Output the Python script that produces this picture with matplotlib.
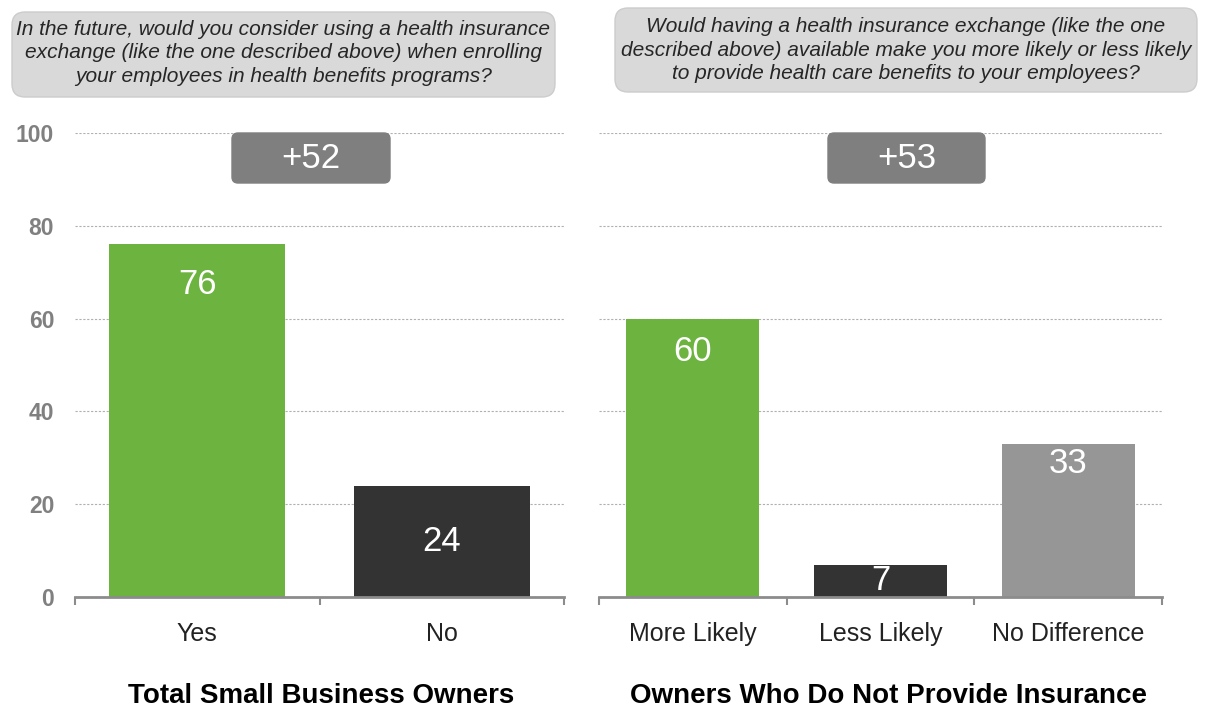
import matplotlib
matplotlib.use('Agg')
import matplotlib.pyplot as plt
from matplotlib.patches import FancyBboxPatch

plt.rcParams['font.family'] = ['Liberation Sans', 'DejaVu Sans']

# ---- data ----
left_categories = ['Yes', 'No']
left_values = [76, 24]
left_colors = ['#6db33f', '#333333']
right_categories = ['More Likely', 'Less Likely', 'No Difference']
right_values = [60, 7, 33]
right_colors = ['#6db33f', '#333333', '#969696']
yticks = [0, 20, 40, 60, 80, 100]
left_delta = '+52'
right_delta = '+53'
left_question = ("In the future, would you consider using a health insurance\n"
                 "exchange (like the one described above) when enrolling\n"
                 "your employees in health benefits programs?")
right_question = ("Would having a health insurance exchange (like the one\n"
                  "described above) available make you more likely or less likely\n"
                  "to provide health care benefits to your employees?")
left_title = 'Total Small Business Owners'
right_title = 'Owners Who Do Not Provide Insurance'

W, H = 1205, 711
fig = plt.figure(figsize=(W / 100, H / 100), dpi=100)


def px_axes(x0, x1, ytop, ybot):
    return fig.add_axes([x0 / W, 1 - ybot / H, (x1 - x0) / W, (ybot - ytop) / H])


axL = px_axes(75, 564, 133, 597)
axR = px_axes(599, 1162, 133, 597)


def style(ax, cats, vals, colors, width, show_y):
    x = list(range(len(cats)))
    ax.bar(x, vals, width=width, color=colors, zorder=3)
    ax.set_xlim(-0.5, len(cats) - 0.5)
    ax.set_ylim(0, 100)
    ax.set_yticks(yticks)
    ax.yaxis.grid(True, color='#b0b0b0', linestyle=(0, (2, 1.5)), linewidth=0.8, zorder=0)
    ax.set_axisbelow(True)
    for s in ['top', 'right', 'left']:
        ax.spines[s].set_visible(False)
    ax.spines['bottom'].set_color('#8c8c8c')
    ax.spines['bottom'].set_linewidth(2)
    ax.spines['bottom'].set_zorder(4)
    ax.set_xticks(x)
    ax.set_xticklabels(cats, fontsize=18, color='#222222')
    ax.set_xticks([i - 0.5 for i in range(len(cats) + 1)], minor=True)
    ax.tick_params(axis='x', which='major', length=0, pad=18)
    ax.tick_params(axis='x', which='minor', length=6, width=1.5, color='#8c8c8c', direction='out')
    ax.tick_params(axis='y', length=0, pad=15, labelsize=16.5, labelcolor='#808080')
    for lab in ax.get_yticklabels():
        lab.set_fontweight('bold')
    if not show_y:
        ax.tick_params(axis='y', labelleft=False)
    for xi, v in zip(x, vals):
        y = 0.9 * v - 1 if v > 30 else v / 2
        ax.text(xi, y, str(v), ha='center', va='center', color='white', fontsize=25, zorder=5)


style(axL, left_categories, left_values, left_colors, 0.72, True)
style(axR, right_categories, right_values, right_colors, 0.71, False)


def rbox(x0, y0, x1, y1, fc, ec, r):
    p = FancyBboxPatch((x0 / 100, (H - y1) / 100), (x1 - x0) / 100, (y1 - y0) / 100,
                       boxstyle=f'round,pad=0,rounding_size={r}',
                       transform=fig.dpi_scale_trans, fc=fc, ec=ec, lw=1, zorder=10)
    fig.add_artist(p)


# question boxes
rbox(12, 12, 555, 97, '#d9d9d9', '#cccccc', 0.13)
rbox(615, 8, 1197, 92, '#d9d9d9', '#cccccc', 0.13)
fig.text(283.5 / W, 1 - 53 / H, left_question, ha='center', va='center', fontsize=15,
         style='italic', color='#262626', linespacing=1.3, zorder=11)
fig.text(906 / W, 1 - 50 / H, right_question, ha='center', va='center', fontsize=15,
         style='italic', color='#262626', linespacing=1.3, zorder=11)

# delta boxes
rbox(232, 133, 390, 183, '#7f7f7f', '#7f7f7f', 0.06)
rbox(828, 133, 985, 183, '#7f7f7f', '#7f7f7f', 0.06)
fig.text(311 / W, 1 - 158 / H, left_delta, ha='center', va='center', fontsize=25,
         color='white', zorder=11)
fig.text(906.5 / W, 1 - 158 / H, right_delta, ha='center', va='center', fontsize=25,
         color='white', zorder=11)

# group titles
fig.text(321 / W, 1 - 696 / H, left_title, ha='center', va='center', fontsize=20,
         fontweight='bold', color='black')
fig.text(889 / W, 1 - 696 / H, right_title, ha='center', va='center', fontsize=20,
         fontweight='bold', color='black')

fig.savefig('out.png', dpi=100)
